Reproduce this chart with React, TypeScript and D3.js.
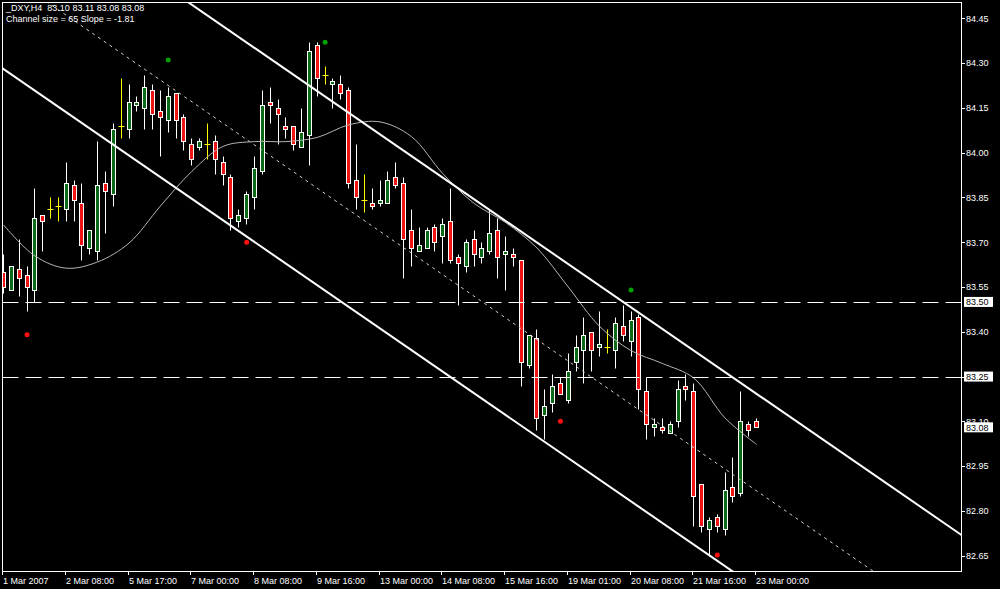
import React from 'react';
import * as d3 from 'd3';

// ---- Data (DXY H4, 1 Mar – 23 Mar 2007) ----
const opens = [
  83.60, 83.54, 83.61, 83.59, 83.54, 83.79, 83.81, 83.82, 83.81, 83.89,
  83.83, 83.68, 83.67, 83.90, 83.86, 84.09, 84.08, 84.16, 84.15, 84.21,
  84.14, 84.11, 84.20, 84.12, 84.03, 84.02, 84.03, 84.04, 83.97, 83.92,
  83.77, 83.78, 83.85, 83.94, 84.17, 84.15, 84.09, 84.09, 84.02, 84.06,
  84.36, 84.26, 84.23, 84.23, 84.21, 83.91, 83.84, 83.83, 83.83, 83.83,
  83.92, 83.90, 83.74, 83.67, 83.68, 83.75, 83.72, 83.77, 83.65, 83.62,
  83.71, 83.65, 83.67, 83.74, 83.66, 83.66, 83.64, 83.29, 83.38, 83.12,
  83.16, 83.23, 83.17, 83.30, 83.34, 83.40, 83.35, 83.35, 83.34, 83.42,
  83.37, 83.45, 83.20, 83.08, 83.08, 83.06, 83.10, 83.22, 83.20, 82.89,
  82.74, 82.78, 82.74, 82.88, 82.86, 83.09, 83.10,
];
const highs = [
  83.66, 83.62, 83.71, 83.62, 83.88, 83.79, 83.85, 83.85, 83.97, 83.91,
  83.90, 83.74, 84.04, 83.94, 84.10, 84.25, 84.23, 84.19, 84.26, 84.23,
  84.21, 84.22, 84.20, 84.13, 84.05, 84.05, 84.10, 84.06, 83.99, 83.93,
  83.81, 83.87, 83.99, 84.21, 84.22, 84.18, 84.12, 84.09, 84.15, 84.37,
  84.37, 84.29, 84.25, 84.26, 84.22, 84.03, 83.93, 83.88, 83.91, 83.94,
  83.97, 83.92, 83.81, 83.75, 83.75, 83.76, 83.78, 83.88, 83.66, 83.71,
  83.74, 83.70, 83.81, 83.78, 83.72, 83.68, 83.64, 83.39, 83.41, 83.21,
  83.26, 83.25, 83.33, 83.39, 83.45, 83.40, 83.47, 83.41, 83.45, 83.49,
  83.47, 83.46, 83.25, 83.11, 83.11, 83.10, 83.24, 83.26, 83.23, 82.89,
  82.78, 82.79, 82.93, 82.98, 83.20, 83.10, 83.11,
];
const lows = [
  83.53, 83.54, 83.52, 83.47, 83.50, 83.67, 83.78, 83.77, 83.77, 83.77,
  83.64, 83.66, 83.64, 83.73, 83.82, 84.05, 84.05, 84.14, 84.08, 84.08,
  83.99, 84.07, 84.05, 84.01, 83.96, 84.01, 83.98, 83.93, 83.89, 83.74,
  83.75, 83.76, 83.81, 83.93, 84.10, 84.03, 84.05, 84.01, 84.02, 83.96,
  84.19, 84.23, 84.15, 84.18, 83.88, 83.81, 83.80, 83.81, 83.82, 83.83,
  83.88, 83.58, 83.62, 83.67, 83.68, 83.67, 83.63, 83.63, 83.49, 83.60,
  83.62, 83.63, 83.66, 83.58, 83.54, 83.62, 83.22, 83.28, 83.07, 83.04,
  83.13, 83.19, 83.16, 83.27, 83.23, 83.27, 83.32, 83.33, 83.28, 83.37,
  83.32, 83.14, 83.04, 83.05, 83.06, 83.06, 83.08, 83.17, 82.75, 82.73,
  82.65, 82.73, 82.72, 82.83, 82.85, 83.05, 83.08,
];
const closes = [
  83.55, 83.62, 83.58, 83.55, 83.78, 83.77, 83.81, 83.82, 83.90, 83.84,
  83.69, 83.74, 83.89, 83.87, 84.08, 84.09, 84.17, 84.17, 84.22, 84.13,
  84.12, 84.19, 84.11, 84.04, 83.98, 84.04, 84.03, 83.98, 83.93, 83.78,
  83.79, 83.86, 83.95, 84.16, 84.16, 84.13, 84.08, 84.03, 84.07, 84.34,
  84.25, 84.26, 84.24, 84.20, 83.90, 83.85, 83.84, 83.82, 83.84, 83.91,
  83.89, 83.71, 83.68, 83.69, 83.74, 83.70, 83.76, 83.64, 83.63, 83.70,
  83.66, 83.68, 83.73, 83.65, 83.67, 83.65, 83.30, 83.39, 83.11, 83.15,
  83.22, 83.19, 83.27, 83.35, 83.39, 83.34, 83.36, 83.35, 83.43, 83.39,
  83.44, 83.21, 83.09, 83.09, 83.07, 83.09, 83.21, 83.21, 82.85, 82.75,
  82.77, 82.75, 82.87, 82.85, 83.10, 83.07, 83.08,
];

// Moving average values read at every 4th bar
const maBars = [0, 4, 8, 12, 16, 20, 24, 28, 32, 36, 40, 44, 48, 52, 56, 60, 64, 68, 72, 76, 80, 84, 88, 92, 96];
const maValues = [
  83.758, 83.654, 83.613, 83.634, 83.697, 83.821, 83.937, 84.021, 84.037, 84.037,
  84.051, 84.093, 84.103, 84.054, 83.930, 83.830, 83.766, 83.681, 83.550, 83.418,
  83.337, 83.294, 83.245, 83.111, 83.023,
];

// Fractal markers
const fractalUpBars = [21, 41, 80];
const fractalUpPrices = [84.31, 84.37, 83.54];
const fractalDownBars = [3, 31, 71, 91];
const fractalDownPrices = [83.39, 83.70, 83.10, 82.652];

// Channel
const channelUpperAtBar0 = 84.93;
const channelSlope = -0.0181;
const channelSize = 0.65;

// Horizontal lines
const hLinePrices = [83.50, 83.25];
const lastPrice = 83.08;

// Axes
const priceTicks = [84.45, 84.30, 84.15, 84.00, 83.85, 83.70, 83.55, 83.40, 83.25, 83.10, 82.95, 82.80, 82.65];
const timeLabels = [
  '1 Mar 2007', '2 Mar 08:00', '5 Mar 17:00', '7 Mar 00:00', '8 Mar 08:00',
  '9 Mar 16:00', '13 Mar 00:00', '14 Mar 08:00', '15 Mar 16:00', '19 Mar 01:00',
  '20 Mar 08:00', '21 Mar 16:00', '23 Mar 00:00',
];
const timeLabelStep = 8;

const symbolLabel = '_DXY,H4';

const W = 1000;
const H = 589;
const L = 2.5, T = 2.5, R = 961.5, B = 571.5;
const FONT = '"Liberation Sans", Arial, sans-serif';

export default function App() {
  const n = opens.length;
  const x = d3.scaleLinear().domain([0, n - 1]).range([3.5, 756.5]);
  const y = d3.scaleLinear().domain([82.65, 84.45]).range([555.7, 18.3]);
  const px = (i: number) => Math.floor(x(i)) + 0.5;
  const py = (p: number) => Math.round(y(p)) + 0.5;

  const upper = (b: number) => channelUpperAtBar0 + channelSlope * b;
  const chanBars = [-10, 130];
  const chanLine = (off: number) =>
    d3.line<number>().x((b) => x(b)).y((b) => y(upper(b) - off))(chanBars) || '';

  const maLine = d3
    .line<number>()
    .x((_, k) => x(maBars[k]))
    .y((v) => y(v))
    .curve(d3.curveCatmullRom)(maValues) || '';

  const last = n - 1;
  const header1 = `${symbolLabel}  ${opens[last].toFixed(2)} ${highs[last].toFixed(2)} ${lows[last].toFixed(2)} ${closes[last].toFixed(2)}`;
  const header2 = `Channel size = ${Math.round(channelSize * 100)} Slope = ${(channelSlope * 100).toFixed(2)}`;

  return (
    <svg width={W} height={H} style={{ position: 'absolute', left: 0, top: 0, display: 'block' }}>
      <defs>
        <clipPath id="plot">
          <rect x={L} y={T} width={R - L} height={B - T} />
        </clipPath>
      </defs>
      <rect x={0} y={0} width={W} height={H} fill="#000" />

      <g clipPath="url(#plot)">
        {/* candles */}
        {opens.map((o, i) => {
          const c = closes[i];
          const cx = px(i);
          const hy = py(highs[i]);
          const ly = py(lows[i]);
          if (o === c) {
            const yy = py(o);
            return (
              <g key={i} stroke="#ffff00" strokeWidth={1}>
                <line x1={cx} x2={cx} y1={hy} y2={ly} />
                <line x1={cx - 3} x2={cx + 3} y1={yy} y2={yy} />
              </g>
            );
          }
          const top = py(Math.max(o, c));
          const bot = py(Math.min(o, c));
          return (
            <g key={i}>
              <line x1={cx} x2={cx} y1={hy} y2={ly} stroke="#fff" strokeWidth={1} />
              <rect
                x={cx - 2}
                y={top}
                width={4}
                height={Math.max(bot - top, 1)}
                fill={c > o ? '#0a6a16' : '#ee1414'}
                stroke="#fff"
                strokeWidth={1}
              />
            </g>
          );
        })}

        {/* moving average */}
        <path d={maLine} fill="none" stroke="#b4b4b4" strokeWidth={1} />

        {/* horizontal dashed lines */}
        {hLinePrices.map((p, k) => (
          <line key={k} x1={L} x2={R} y1={py(p)} y2={py(p)} stroke="#fff" strokeWidth={1} strokeDasharray="16,7" />
        ))}

        {/* channel */}
        <path d={chanLine(0)} fill="none" stroke="#fff" strokeWidth={2} />
        <path d={chanLine(channelSize)} fill="none" stroke="#fff" strokeWidth={2} />
        <path d={chanLine(channelSize / 2)} fill="none" stroke="#d0d0d0" strokeWidth={1} strokeDasharray="3,4" />

        {/* fractals */}
        {fractalUpBars.map((b, k) => (
          <circle key={'u' + k} cx={x(b)} cy={y(fractalUpPrices[k])} r={2.5} fill="#00a000" />
        ))}
        {fractalDownBars.map((b, k) => (
          <circle key={'d' + k} cx={x(b)} cy={y(fractalDownPrices[k])} r={2.5} fill="#ff1010" />
        ))}
      </g>

      {/* frame */}
      <rect x={L} y={T} width={R - L} height={B - T} fill="none" stroke="#fff" strokeWidth={1} />

      {/* header */}
      <text x={6} y={11} fill="#fff" fontFamily={FONT} fontSize={9} style={{ whiteSpace: 'pre' }}>
        {header1}
      </text>
      <text x={6} y={22} fill="#fff" fontFamily={FONT} fontSize={9}>
        {header2}
      </text>

      {/* price axis */}
      {priceTicks.map((p, k) => (
        <g key={k}>
          <line x1={R} x2={R + 3.5} y1={py(p)} y2={py(p)} stroke="#fff" strokeWidth={1} />
          <text x={966} y={y(p) + 3.3} fill="#fff" fontFamily={FONT} fontSize={9}>
            {p.toFixed(2)}
          </text>
        </g>
      ))}
      {[...hLinePrices, lastPrice].map((p, k) => (
        <g key={'b' + k}>
          <rect x={964} y={y(p) - 5} width={29} height={10} fill="#fff" />
          <text x={966} y={y(p) + 3.3} fill="#000" fontFamily={FONT} fontSize={9}>
            {p.toFixed(2)}
          </text>
        </g>
      ))}

      {/* time axis */}
      {timeLabels.map((lab, k) => {
        const tx = Math.floor(x(k * timeLabelStep)) - 0.5;
        return (
          <g key={k}>
            <line x1={tx} x2={tx} y1={B} y2={B + 3.5} stroke="#fff" strokeWidth={1} />
            <text x={tx + 0.5} y={583.5} fill="#fff" fontFamily={FONT} fontSize={9}>
              {lab}
            </text>
          </g>
        );
      })}
    </svg>
  );
}
